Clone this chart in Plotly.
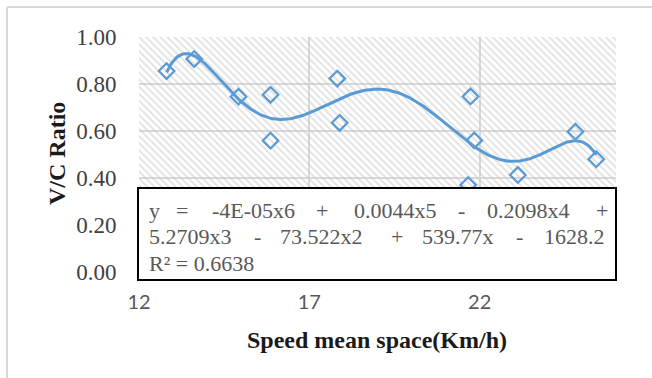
import numpy as np
import plotly.graph_objects as go

# Data
speed = [12.81, 13.62, 14.92, 15.86, 15.86, 17.82, 17.89, 21.73, 21.84, 21.66, 23.12, 24.81, 25.42]
vc_ratio = [0.855, 0.906, 0.746, 0.754, 0.559, 0.823, 0.635, 0.747, 0.560, 0.370, 0.413, 0.597, 0.480]
x_ticks = [12, 17, 22]
y_ticks = [0.0, 0.2, 0.4, 0.6, 0.8, 1.0]

eq_line1 = ["y", "=", "-4E-05x6", "+", "0.0044x5", "-", "0.2098x4", "+"]
eq_line2 = ["5.2709x3", "-", "73.522x2", "+", "539.77x", "-", "1628.2"]
eq_line3 = ["R² = 0.6638"]

# Polynomial trendline (order 6) fitted to the data, as in the spreadsheet
coef = np.polyfit(speed, vc_ratio, 6)
xs = np.linspace(min(speed), max(speed), 300)
ys = np.polyval(coef, xs)

W, H = 652, 378
L, R, T, B = 139, 616, 37, 272

def px(x):
    return (x - L) / (R - L)

def py(y):
    return (B - y) / (B - T)

BLUE = "#5b9bd5"
fig = go.Figure()

# hatched plot background
fig.add_trace(go.Scatter(
    x=[12, 26, 26, 12, 12], y=[0, 0, 1, 1, 0], mode="none", fill="toself",
    fillcolor="rgba(0,0,0,0)",
    fillpattern=dict(shape="\\", fgcolor="#c4c4c4", bgcolor="rgba(0,0,0,0)", size=5, solidity=0.35),
    hoverinfo="skip", showlegend=False))

fig.add_trace(go.Scatter(x=xs, y=ys, mode="lines", line=dict(color=BLUE, width=3),
                         showlegend=False, hoverinfo="skip"))
fig.add_trace(go.Scatter(x=speed, y=vc_ratio, mode="markers",
                         marker=dict(symbol="diamond-open", size=12, color=BLUE, line=dict(width=2.2, color=BLUE)),
                         showlegend=False))

fig.update_xaxes(range=[12, 26], tickvals=x_ticks, showgrid=True, gridcolor="#d9d9d9", gridwidth=2,
                 zeroline=False, showline=False, ticks="outside", ticklen=12, tickcolor="rgba(0,0,0,0)",
                 automargin=False,
                 tickfont=dict(family="Lato", size=20, color="#595959"))
fig.update_yaxes(range=[0, 1], tickvals=y_ticks, tickformat=".2f", showgrid=True, gridcolor="#d9d9d9", gridwidth=2,
                 zeroline=False, showline=False, ticks="outside", ticklen=17, tickcolor="rgba(0,0,0,0)",
                 automargin=False,
                 tickfont=dict(family="Liberation Serif", size=23, color="#404040"))

shapes = [
    # chart-area border (left and top visible)
    dict(type="line", xref="paper", yref="paper", x0=px(7), x1=px(700), y0=py(7), y1=py(7),
         line=dict(color="#d9d9d9", width=2)),
    dict(type="line", xref="paper", yref="paper", x0=px(7), x1=px(7), y0=py(7), y1=py(400),
         line=dict(color="#d9d9d9", width=2)),
    # equation box
    dict(type="rect", xref="paper", yref="paper", x0=px(138), x1=px(616), y0=py(188), y1=py(280),
         fillcolor="white", line=dict(color="black", width=2), layer="above"),
]

annotations = [
    dict(text="<b>V/C Ratio</b>", xref="paper", yref="paper", x=px(57), y=py(154), textangle=-90,
         xanchor="center", yanchor="middle",
         showarrow=False, font=dict(family="Liberation Serif", size=24, color="#1a1a1a")),
    dict(text="<b>Speed mean space(Km/h)</b>", xref="paper", yref="paper", x=px(377), y=py(340),
         xanchor="center", yanchor="middle",
         showarrow=False, font=dict(family="Liberation Serif", size=24, color="#1a1a1a")),
]

eq_font = dict(family="Liberation Serif", size=22, color="#595959")
line1_x = [147, 174, 210, 314, 352, 456, 485, 594]
line2_x = [147, 252, 278, 389, 420, 514, 542]
line3_x = [147]
for toks, xs_, yy in [(eq_line1, line1_x, 210), (eq_line2, line2_x, 236), (eq_line3, line3_x, 263)]:
    for t, xx in zip(toks, xs_):
        annotations.append(dict(text=t, xref="paper", yref="paper", x=px(xx), y=py(yy),
                                xanchor="left", yanchor="middle", showarrow=False, font=eq_font))

fig.update_layout(width=W, height=H, margin=dict(l=L, r=W - R, t=T, b=H - B),
                  paper_bgcolor="white", plot_bgcolor="white",
                  shapes=shapes, annotations=annotations)

fig.write_html("out.html", config={"displayModeBar": False},
               post_script="document.body.style.margin='0';document.body.style.padding='0';")
